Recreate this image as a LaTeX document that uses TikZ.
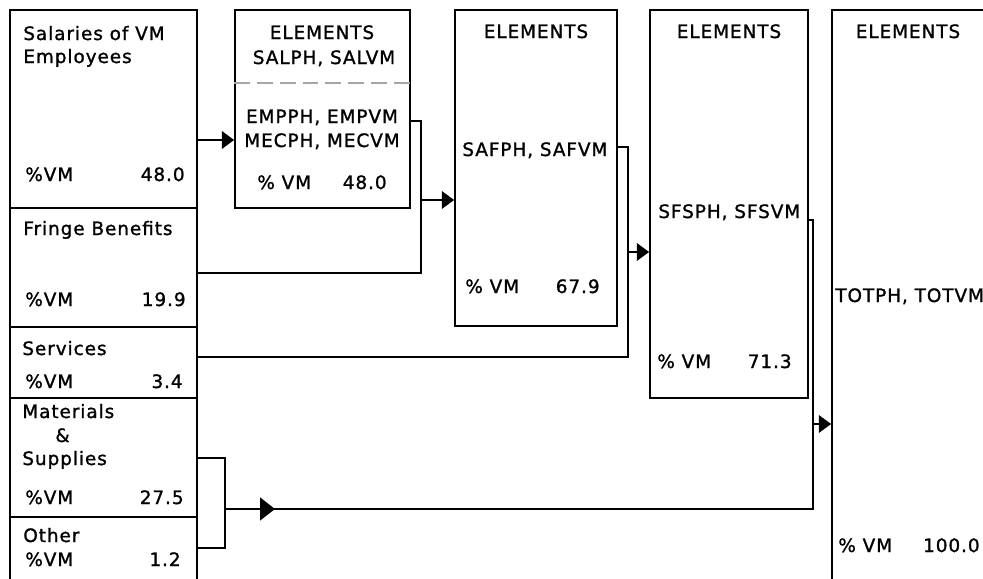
\documentclass[tikz,border=0pt]{standalone}
\usepackage{fontspec}
\setmainfont[LetterSpace=5,FakeBold=1.2]{DejaVu Sans}
\usetikzlibrary{arrows.meta,fit,positioning}

\begin{document}
\begin{tikzpicture}[
    x=0.02cm, y=-0.02cm,
    box/.style={draw, line width=1pt, inner sep=0pt},
    txt/.style={inner sep=0pt, font=\fontsize{10.5}{12}\selectfont},
    link/.style={line width=1pt},
    arrow/.style={link, -{Triangle[length=7pt,width=10pt]}},
    bigarrow/.style={link, -{Triangle[length=8.5pt,width=13pt]}}
]
\useasboundingbox (0,0) rectangle (983,578);
\clip (0,0) rectangle (983,578);

% cost items
\node[box, fit={(10,10) (197,208)}] (sal) {};
\node[box, fit={(10,208) (197,327)}] (fr) {};
\node[box, fit={(10,327) (197,398)}] (sv) {};
\node[box, fit={(10,398) (197,517)}] (mat) {};
\node[box, fit={(10,517) (197,600)}] (oth) {};

% element boxes
\node[box, fit={(235,10) (410,208)}] (el1) {};
\node[box, fit={(455,10) (617,326)}] (el2) {};
\node[box, fit={(650,10) (808,398)}] (el3) {};
\node[box, fit={(832,10) (1000,600)}] (el4) {};
\draw[link, dashed, gray!70, dash pattern=on 9pt off 4pt] (el1.west |- 0,83) -- (el1.east |- 0,83);

% texts
\node[txt, anchor=base west] (salt) at (23,40) {Salaries of VM};
\node[txt, anchor=base west] (salt2) at (23,63) {Employees};
\node[txt, anchor=base west] (salp) at (25,181) {\%VM};
\node[txt, anchor=base east] (salv) at (185,181) {48.0};
\node[txt, anchor=base west] (frt) at (23,235) {Fringe Benefits};
\node[txt, anchor=base west] (frp) at (25,306) {\%VM};
\node[txt, anchor=base east] (frv) at (186,306) {19.9};
\node[txt, anchor=base west] (svt) at (22,355) {Services};
\node[txt, anchor=base west] (svp) at (25,388) {\%VM};
\node[txt, anchor=base east] (svv) at (183,388) {3.4};
\node[txt, anchor=base west] (matt) at (22,418) {Materials};
\node[txt, anchor=base west] (matt2) at (55,442) {\&};
\node[txt, anchor=base west] (matt3) at (22,465) {Supplies};
\node[txt, anchor=base west] (matp) at (25,504) {\%VM};
\node[txt, anchor=base east] (matv) at (184,504) {27.5};
\node[txt, anchor=base west] (otht) at (23,542) {Other};
\node[txt, anchor=base west] (othp) at (25,566) {\%VM};
\node[txt, anchor=base east] (othv) at (181,566) {1.2};

\node[txt, anchor=base] (el1h) at (322,39) {ELEMENTS};
\node[txt, anchor=base] (el1a) at (324,64) {SALPH, SALVM};
\node[txt, anchor=base] (el1b) at (322,123) {EMPPH, EMPVM};
\node[txt, anchor=base] (el1c) at (322,147) {MECPH, MECVM};
\node[txt, anchor=base west] (el1p) at (257,189) {\% VM};
\node[txt, anchor=base east] (el1v) at (387,189) {48.0};

\node[txt, anchor=base] (el2h) at (536,38) {ELEMENTS};
\node[txt, anchor=base west] (el2a) at (462,156) {SAFPH, SAFVM};
\node[txt, anchor=base west] (el2p) at (465,293) {\% VM};
\node[txt, anchor=base east] (el2v) at (600,293) {67.9};

\node[txt, anchor=base] (el3h) at (729,38) {ELEMENTS};
\node[txt, anchor=base west] (el3a) at (658,218) {SFSPH, SFSVM};
\node[txt, anchor=base west] (el3p) at (657,368) {\% VM};
\node[txt, anchor=base east] (el3v) at (792,368) {71.3};

\node[txt, anchor=base] (el4h) at (908,38) {ELEMENTS};
\node[txt, anchor=base west] (el4a) at (835,302) {TOTPH, TOTVM};
\node[txt, anchor=base west] (el4p) at (838,552) {\% VM};
\node[txt, anchor=base east] (el4v) at (980,552) {100.0};

% connectors
\coordinate (j1) at (421,200);
\coordinate (j2) at (628,252);
\coordinate (j3) at (813,424);
\coordinate (j4) at (225,509);
\draw[arrow] (sal.east |- 0,140) -- (el1.west |- 0,140);
\draw[link] (el1.east |- 0,121) -| (j1) |- (fr.east |- 0,273);
\draw[arrow] (j1) -- (el2.west |- j1);
\draw[link] (el2.east |- 0,147) -| (j2) |- (sv.east |- 0,357);
\draw[arrow] (j2) -- (el3.west |- j2);
\draw[link] (el3.east |- 0,220) -| (j3) |- (j4);
\draw[arrow] (j3) -- (el4.west |- j3);
\draw[link] (mat.east |- 0,458) -| (j4) |- (oth.east |- 0,548);
\draw[bigarrow] (j4) -- +(50,0);
\end{tikzpicture}
\end{document}
